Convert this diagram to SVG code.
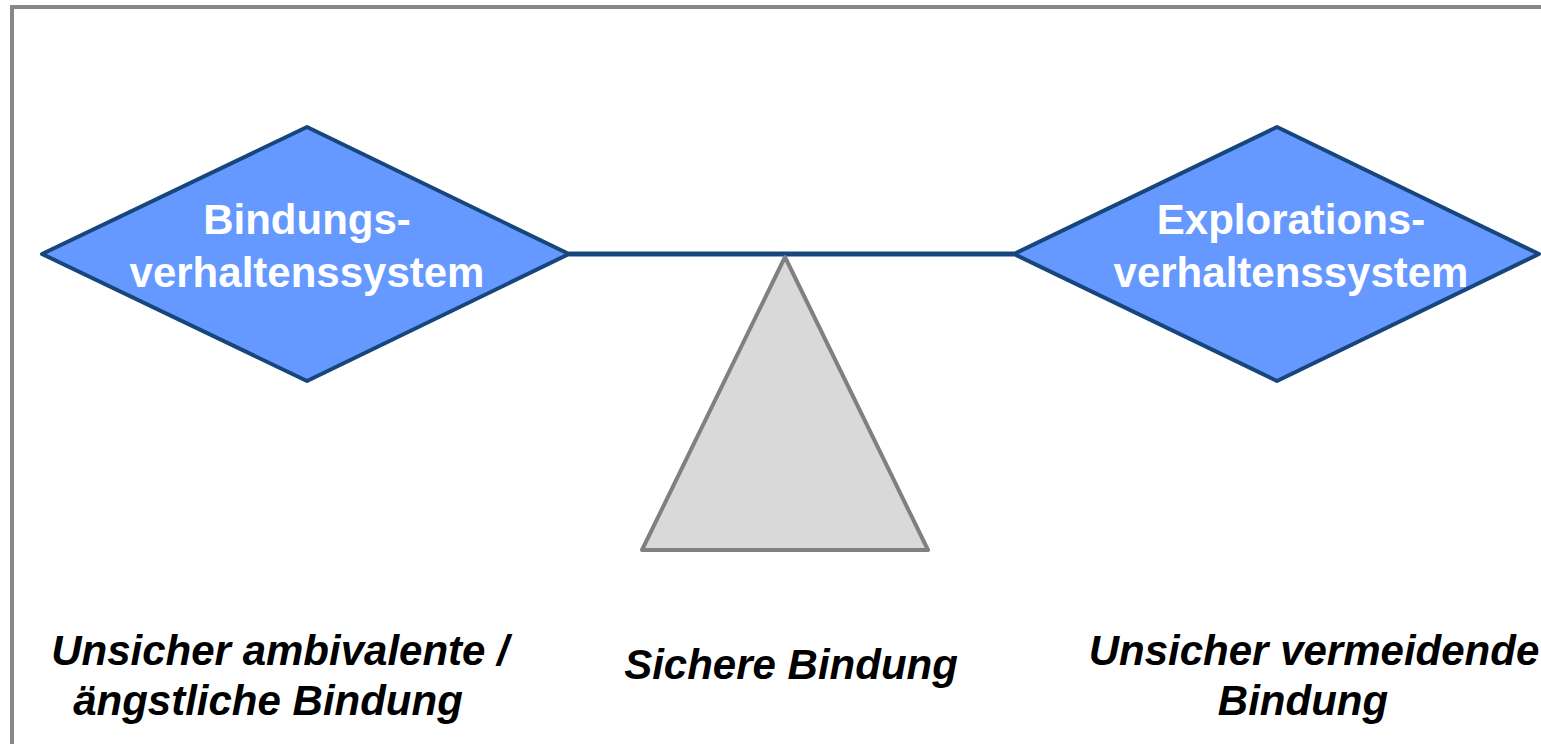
<svg xmlns="http://www.w3.org/2000/svg" width="1541" height="744" viewBox="0 0 1541 744">
  <style>
    .frame { fill: none; stroke: #878787; stroke-width: 4; }
    .system { fill: #6699FF; stroke: #17467D; stroke-width: 4; stroke-linejoin: round; }
    .fulcrum { fill: #D9D9D9; stroke: #808080; stroke-width: 4; stroke-linejoin: round; }
    .beam { stroke: #17467D; stroke-width: 5; fill: none; }
    .label { font-family: "Liberation Sans", Arial, sans-serif; font-weight: bold; font-size: 42px; text-anchor: middle; }
    .inner { fill: #FFFFFF; }
    .caption { fill: #000000; font-style: italic; }
  </style>

  <rect width="1541" height="744" fill="#FFFFFF"/>
  <!-- slide frame, open to the right and bottom -->
  <path class="frame" d="M12,744 V7 H1541"/>

  <!-- balance beam -->
  <g id="connectors">
    <line class="beam" x1="569" y1="254" x2="1014" y2="254"/>
  </g>

  <g id="fulcrum">
    <polygon class="fulcrum" points="785,257 928,550 642,550"/>
  </g>

  <g id="bindung-system">
    <polygon class="system" points="42,254 307,127 569,254 307,381"/>
    <text class="label inner" x="307" y="234">Bindungs-</text>
    <text class="label inner" x="307" y="287">verhaltenssystem</text>
  </g>

  <g id="exploration-system">
    <polygon class="system" points="1014,254 1277,127 1539,254 1277,381"/>
    <text class="label inner" x="1291" y="234">Explorations-</text>
    <text class="label inner" x="1291" y="287">verhaltenssystem</text>
  </g>

  <g id="caption-ambivalent">
    <text class="label caption" x="280" y="665">Unsicher ambivalente /</text>
    <text class="label caption" x="268" y="715">ängstliche Bindung</text>
  </g>

  <g id="caption-secure">
    <text class="label caption" x="791" y="679">Sichere Bindung</text>
  </g>

  <g id="caption-avoidant">
    <text class="label caption" x="1314" y="665">Unsicher vermeidende</text>
    <text class="label caption" x="1303" y="715">Bindung</text>
  </g>
</svg>
